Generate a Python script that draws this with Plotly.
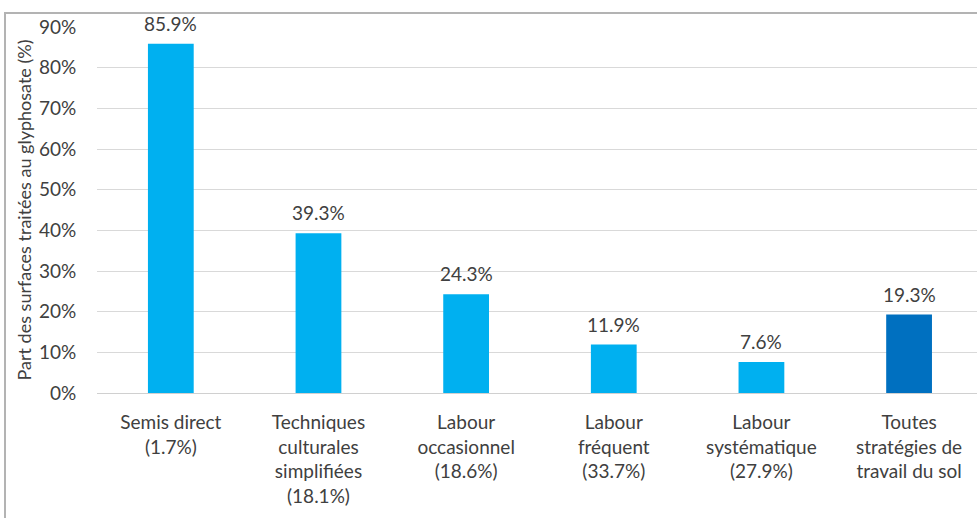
import plotly.graph_objects as go

categories = [
    "Semis direct<br>(1.7%)",
    "Techniques<br>culturales<br>simplifiées<br>(18.1%)",
    "Labour<br>occasionnel<br>(18.6%)",
    "Labour<br>fréquent<br>(33.7%)",
    "Labour<br>systématique<br>(27.9%)",
    "Toutes<br>stratégies de<br>travail du sol",
]
values = [85.9, 39.3, 24.3, 11.9, 7.6, 19.3]
bar_colors = ["#00B0F0", "#00B0F0", "#00B0F0", "#00B0F0", "#00B0F0", "#0070C0"]
y_title = "Part des surfaces traitées au glyphosate (%)"

W, H = 977, 518
L, R, T, B = 97, 0, 27, 125
pw, ph = W - L - R, H - T - B

txt = "#404040"
font = "Lato, 'Open Sans', sans-serif"

fig = go.Figure(go.Bar(
    x=list(range(len(categories))),
    y=values,
    marker=dict(color=bar_colors, line=dict(width=0)),
    width=0.31,
    cliponaxis=False,
))

for i, v in enumerate(values):
    fig.add_annotation(
        x=i, y=v, text=f"{v:.1f}%", showarrow=False,
        yanchor="bottom", yshift=7,
        font=dict(size=19, color=txt, family=font),
    )

fig.update_layout(
    width=W, height=H,
    margin=dict(l=L, r=R, t=T, b=B),
    paper_bgcolor="white", plot_bgcolor="white",
    showlegend=False,
    font=dict(family=font, color=txt),
    xaxis=dict(
        tickmode="array",
        tickvals=list(range(len(categories))),
        ticktext=categories,
        range=[-0.5, 5.46],
        tickfont=dict(size=19, color=txt),
        ticks="outside", ticklen=12, tickcolor="rgba(0,0,0,0)",
        showgrid=False, zeroline=False, showline=False,
    ),
    yaxis=dict(
        range=[0, 90],
        dtick=10,
        ticksuffix="%",
        tickfont=dict(size=19, color=txt),
        showgrid=True, gridcolor="#d9d9d9", gridwidth=1,
        zeroline=True, zerolinecolor="#d0d0d0", zerolinewidth=1,
        showline=False,
        ticks="outside", ticklen=16, tickcolor="rgba(0,0,0,0)",
        title=dict(text=y_title, font=dict(size=18, color=txt), standoff=2),
    ),
)

# outer grey frame of the original chart image
fig.add_shape(
    type="rect", xref="paper", yref="paper",
    x0=(5 - L) / pw, x1=(W + 10 - L) / pw,
    y0=-(H + 10 - (T + ph)) / ph, y1=(T + ph - 13) / ph,
    line=dict(color="#b3b3b3", width=2), fillcolor="rgba(0,0,0,0)",
    layer="below",
)

fig.write_html("out.html")
